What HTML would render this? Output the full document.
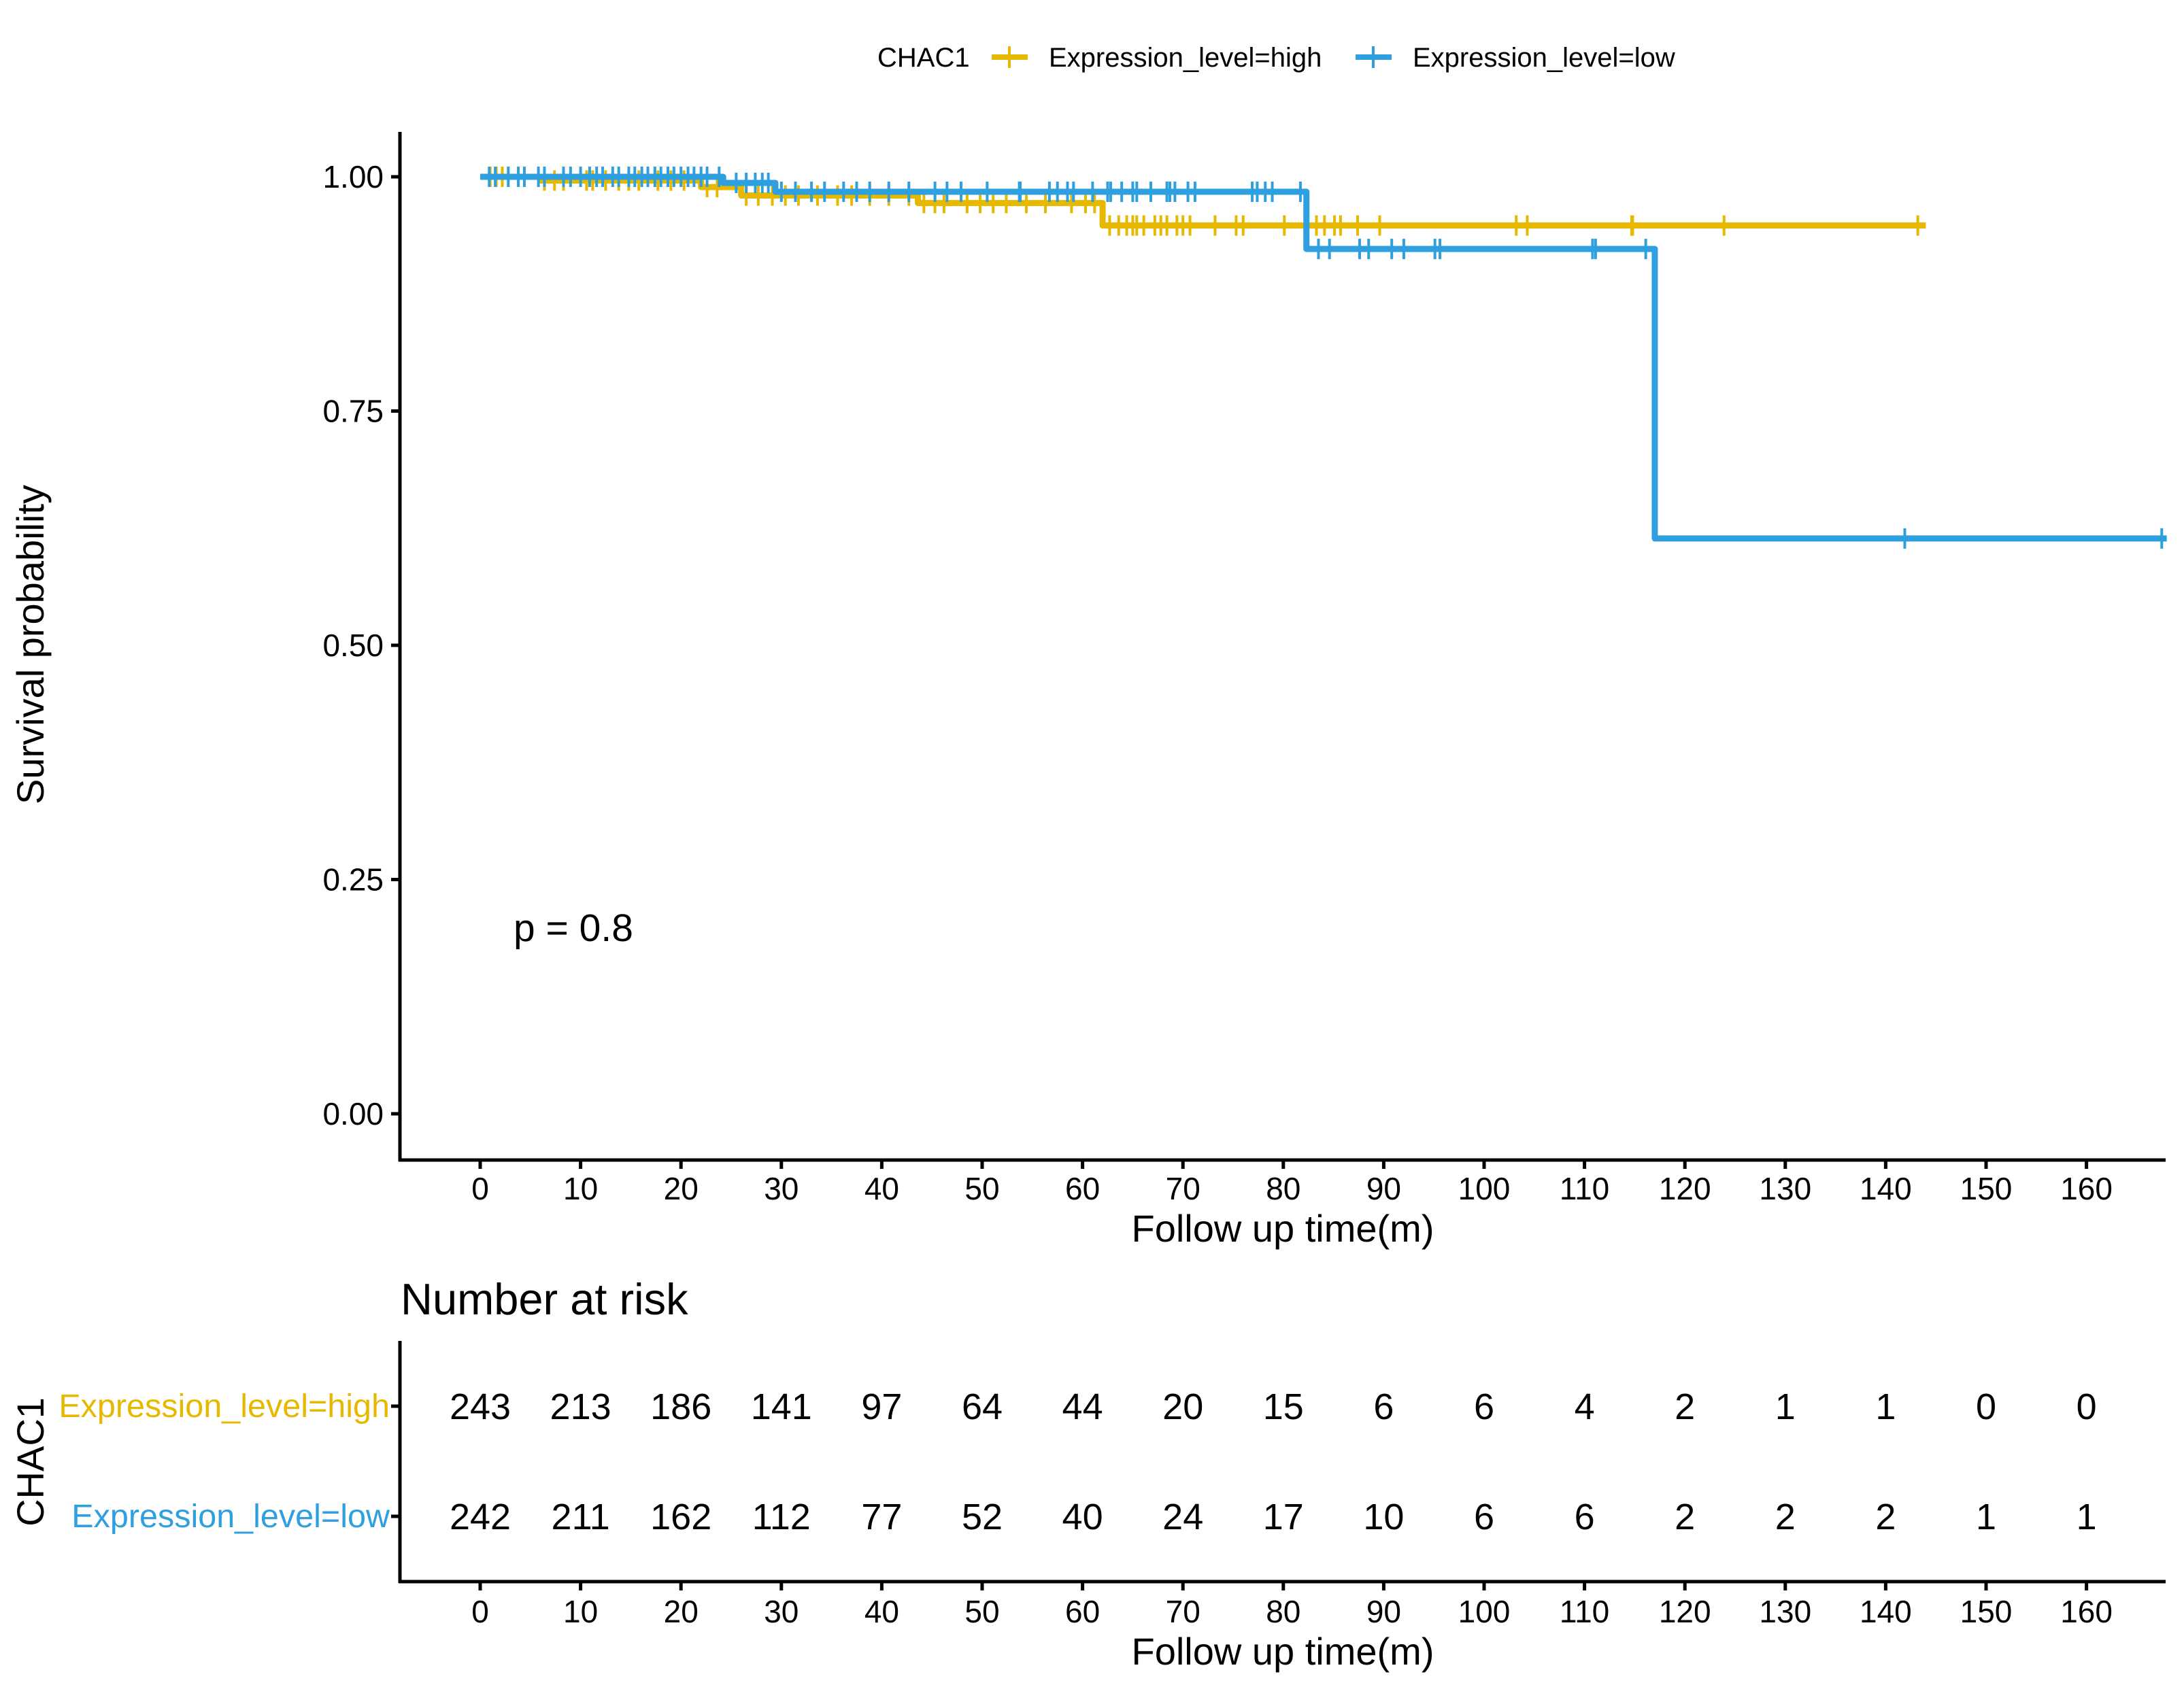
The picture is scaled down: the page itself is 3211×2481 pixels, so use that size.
<!DOCTYPE html>
<html><head><meta charset="utf-8">
<style>
html,body{margin:0;padding:0;background:#fff;}
svg{display:block;font-family:"Liberation Sans",Arial,sans-serif;}
</style></head>
<body>
<svg id="chart" width="3211" height="2481" viewBox="0 0 3211 2481" xmlns="http://www.w3.org/2000/svg">
  <g font-size="40">
    <text x="1290" y="98">CHAC1</text>
    <line x1="1458" y1="84" x2="1511" y2="84" stroke="#E7B800" stroke-width="8"/>
    <line x1="1484" y1="68" x2="1484" y2="100" stroke="#E7B800" stroke-width="4"/>
    <text x="1542" y="98">Expression_level=high</text>
    <line x1="1993" y1="84" x2="2046" y2="84" stroke="#2E9FDF" stroke-width="8"/>
    <line x1="2019" y1="68" x2="2019" y2="100" stroke="#2E9FDF" stroke-width="4"/>
    <text x="2077" y="98">Expression_level=low</text>
  </g>
  <g id="main"></g>
  <g id="risk"></g>
</svg>
<script>
const xTicks = [0,10,20,30,40,50,60,70,80,90,100,110,120,130,140,150,160];
const yTicks = [0, 0.25, 0.5, 0.75, 1.0];
const yTickLabels = ["0.00","0.25","0.50","0.75","1.00"];
const highTimes = [0, 6, 22, 26, 43.6, 62, 144];
const highSurv  = [1.0, 0.996, 0.989, 0.980, 0.972, 0.948, 0.948];
const lowTimes  = [0, 24.2, 29.4, 82.3, 117, 168];
const lowSurv   = [1.0, 0.9935, 0.984, 0.923, 0.614, 0.614];
const highCensor = [1.0,1.6,2.2,3.8,4.4,6.4,7.4,8.3,10.6,11.2,12.5,13.8,14.8,15.8,17.7,19,20.3,22.6,23.6,26.5,27.7,29.1,30.4,31.7,33.6,35.6,37,38.8,40.7,42.7,44.2,45.3,46.2,48.5,49.8,51.1,52.4,54.4,56.3,58.9,60.3,61.2,62.7,63.6,64.4,65,65.4,66.1,67.2,67.8,68.4,69.4,70,70.7,73.2,75.3,76,80.1,82.3,83.3,84.1,85.1,85.7,87.4,89.6,103.2,104.3,114.7,114.8,123.9,143.2];
const lowCensor = [0.9,1.5,2.8,3.8,4.4,5.8,6.4,8.3,9,10,10.9,11.6,12.2,13.2,13.8,14.8,15.4,16.1,16.7,17.4,18,18.7,19.3,20,20.7,21.3,22,22.6,23.8,25.5,26.5,27.4,28.1,28.7,30,31.4,33,34.3,36.2,37.5,38.8,40.7,42.7,45.3,46.5,47.9,50.5,53.7,53.8,56.7,57.5,58.5,59.1,61,62.5,62.8,63.9,65,65.4,66.8,68.4,68.7,69.2,70.5,71.2,76.9,77.4,78.2,78.9,81.7,83.5,84.6,87.6,88.5,90.8,92,95.1,95.6,110.8,111.1,116.1,141.9,167.5];
const riskHigh = [243,213,186,141,97,64,44,20,15,6,6,4,2,1,1,0,0];
const riskLow  = [242,211,162,112,77,52,40,24,17,10,6,6,2,2,2,1,1];
const groups = ["Expression_level=high","Expression_level=low"];

const NS="http://www.w3.org/2000/svg";
const X = t => 706 + t*14.76;
const Y = s => 1638 - s*1378;
function el(parent, tag, attrs, text){
  const e=document.createElementNS(NS,tag);
  for(const k in attrs) e.setAttribute(k,attrs[k]);
  if(text!==undefined) e.textContent=text;
  parent.appendChild(e); return e;
}
const main=document.getElementById('main');
const risk=document.getElementById('risk');

let a=el(main,'line',{x1:588,y1:194,x2:588,y2:1708,stroke:'#000','stroke-width':5});


a=el(main,'line',{x1:586,y1:1706,x2:3184,y2:1706,stroke:'#000','stroke-width':5});


yTicks.forEach((v,i)=>{
  el(main,'line',{x1:575,y1:Y(v),x2:588,y2:Y(v),stroke:'#000','stroke-width':5});
  const t=el(main,'text',{x:564,y:Y(v)+16,'text-anchor':'end','font-size':46},yTickLabels[i]);
  
  
});
function xAxis(g, yLine, yLab){
  xTicks.forEach(v=>{
    el(g,'line',{x1:X(v),y1:yLine,x2:X(v),y2:yLine+13,stroke:'#000','stroke-width':5});
    const t=el(g,'text',{x:X(v),y:yLab,'text-anchor':'middle','font-size':46},String(v));
    
    
  });
}
xAxis(main,1706,1764);
let tt=el(main,'text',{x:1886,y:1826,'text-anchor':'middle','font-size':56},'Follow up time(m)');


tt=el(main,'text',{x:0,y:0,'text-anchor':'middle','font-size':56,transform:'translate(64,948) rotate(-90)'},'Survival probability');


tt=el(main,'text',{x:755,y:1384,'font-size':57},'p = 0.8');



function survAt(times,surv,t){let s=surv[0];for(let i=0;i<times.length;i++){if(times[i]<=t)s=surv[i];}return s;}
function curve(times,surv,censor,color,name){
  let d='M'+X(times[0])+','+Y(surv[0]);
  for(let i=1;i<times.length;i++){d+=' H'+X(times[i])+' V'+Y(surv[i]);}
  const p=el(main,'path',{d:d,fill:'none',stroke:color,'stroke-width':9,'stroke-linejoin':'round'});
  
  
  censor.forEach(t=>{
    const y=Y(survAt(times,surv,t));
    const m=el(main,'line',{x1:X(t),y1:y-15,x2:X(t),y2:y+15,stroke:color,'stroke-width':4});
    
    
  });
}
curve(highTimes,highSurv,highCensor,'#E7B800','high');
curve(lowTimes,lowSurv,lowCensor,'#2E9FDF','low');

tt=el(risk,'text',{x:589,y:1933,'font-size':65},'Number at risk');


a=el(risk,'line',{x1:588,y1:1972,x2:588,y2:2328,stroke:'#000','stroke-width':5});


a=el(risk,'line',{x1:586,y1:2326,x2:3184,y2:2326,stroke:'#000','stroke-width':5});


xAxis(risk,2326,2386);
tt=el(risk,'text',{x:1886,y:2448,'text-anchor':'middle','font-size':56},'Follow up time(m)');


tt=el(risk,'text',{x:0,y:0,'text-anchor':'middle','font-size':56,transform:'translate(64,2150) rotate(-90)'},'CHAC1');


const rowY=[2068,2230], rowCol=['#E7B800','#2E9FDF'], rowData=[riskHigh,riskLow];
groups.forEach((g,i)=>{
  el(risk,'line',{x1:575,y1:rowY[i],x2:588,y2:rowY[i],stroke:'#000','stroke-width':5});
  const l=el(risk,'text',{x:573,y:rowY[i]+16,'text-anchor':'end','font-size':48.5,fill:rowCol[i]},g);
  
  
  rowData[i].forEach((v,j)=>{
    const n=el(risk,'text',{x:X(xTicks[j]),y:rowY[i]+19,'text-anchor':'middle','font-size':54},String(v));
    
    
  });
});
</script>
</body></html>
